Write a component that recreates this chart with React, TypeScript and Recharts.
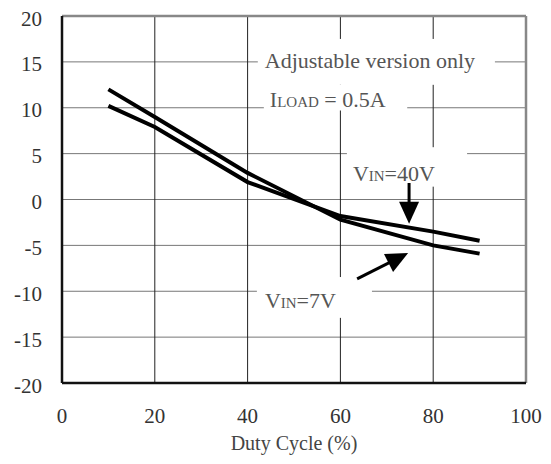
import React from 'react';
import { LineChart, Line, XAxis, YAxis, CartesianGrid, ReferenceArea, ReferenceLine } from 'recharts';

const DUTY = [10, 20, 40, 60, 80, 90];
const VIN_7V = [12.0, 9.0, 2.9, -2.2, -5.0, -5.9];
const VIN_40V = [10.2, 7.9, 1.9, -1.8, -3.5, -4.5];
const X_TICKS = [0, 20, 40, 60, 80, 100];
const Y_TICKS = [-20, -15, -10, -5, 0, 5, 10, 15, 20];

const data = DUTY.map((x, i) => ({ x, v7: VIN_7V[i], v40: VIN_40V[i] }));

const FONT = '"Liberation Serif", "DejaVu Serif", serif';
const TEXT = '#555';

// text boxes that blank out the grid behind them
type Part = [string, number];
const NOTES: { x1: number; x2: number; y1: number; y2: number; dx: number; dy: number; parts: Part[] }[] = [
  { x1: 42.2, x2: 93.3, y1: 12.5, y2: 17.5, dx: 7, dy: 29, parts: [['Adjustable version only', 22]] },
  { x1: 43.5, x2: 74.4, y1: 9.7, y2: 12.5, dx: 6, dy: 22, parts: [['I', 22], ['LOAD', 15], [' = 0.5A', 22]] },
  { x1: 61.4, x2: 87.3, y1: 1.4, y2: 5.7, dx: 6, dy: 34, parts: [['V', 22], ['IN', 15], ['=40V', 22]] },
  { x1: 42.0, x2: 66.8, y1: -12.9, y2: -8.45, dx: 8, dy: 31, parts: [['V', 22], ['IN', 15], ['=7V', 22]] },
];

const ARROWS = [
  [{ x: 74.8, y: 1.8 }, { x: 74.8, y: -2.65 }],
  [{ x: 63.6, y: -8.66 }, { x: 74.6, y: -5.83 }],
];

const NoteBox = (props: any) => {
  const { x, y, width, height, note } = props;
  return (
    <g>
      <rect x={x} y={y} width={width} height={height} fill="#fff" />
      <text x={x + note.dx} y={y + note.dy} fill={TEXT} fontFamily={FONT}>
        {note.parts.map((p: Part, i: number) => (
          <tspan key={i} fontSize={p[1]}>{p[0]}</tspan>
        ))}
      </text>
    </g>
  );
};

const Arrow = (props: any) => {
  const { x1, y1, x2, y2 } = props;
  const dx = x2 - x1;
  const dy = y2 - y1;
  const len = Math.hypot(dx, dy);
  const ux = dx / len;
  const uy = dy / len;
  const hl = 22;
  const hw = 10;
  const bx = x2 - ux * hl;
  const by = y2 - uy * hl;
  const pts = `${x2},${y2} ${bx - uy * hw},${by + ux * hw} ${bx + uy * hw},${by - ux * hw}`;
  return (
    <g>
      <line x1={x1} y1={y1} x2={bx + ux * 2} y2={by + uy * 2} stroke="#000" strokeWidth={3} />
      <polygon points={pts} fill="#000" />
    </g>
  );
};

const YTick = (p: any) => (
  <text x={p.x - 20} y={p.y + 9.5} textAnchor="end" fontSize={21} fontFamily={FONT} fill="#333">
    {p.payload.value}
  </text>
);

const XTick = (p: any) => (
  <text x={p.x} y={p.y + 40} textAnchor="middle" fontSize={21} fontFamily={FONT} fill="#333">
    {p.payload.value}
  </text>
);

export default function App() {
  return (
    <div style={{ position: 'absolute', left: 0, top: 0, background: '#fff' }}>
      <LineChart width={551} height={464} data={data} margin={{ top: 16, right: 25, left: 0, bottom: 6 }}>
        <CartesianGrid vertical={false} stroke="#777" strokeWidth={1} />
        <CartesianGrid horizontal={false} stroke="#222" strokeWidth={1} />
        <XAxis
          dataKey="x"
          type="number"
          domain={[0, 100]}
          ticks={X_TICKS}
          height={75}
          tickSize={0}
          tickMargin={0}
          tickLine={false}
          axisLine={{ stroke: '#111', strokeWidth: 2.5 }}
          tick={<XTick />}
          label={{ value: 'Duty Cycle (%)', position: 'insideBottom', offset: 8, fontSize: 20, fontFamily: FONT, fill: '#444' }}
        />
        <YAxis
          type="number"
          domain={[-20, 20]}
          ticks={Y_TICKS}
          width={62}
          tickSize={0}
          tickMargin={0}
          tickLine={false}
          axisLine={{ stroke: '#111', strokeWidth: 2.5 }}
          tick={<YTick />}
        />
        <ReferenceLine y={20} stroke="#888" strokeWidth={2.5} />
        <ReferenceLine x={100} stroke="#888" strokeWidth={2.5} />
        {NOTES.map((n, i) => (
          <ReferenceArea
            key={i}
            x1={n.x1}
            x2={n.x2}
            y1={n.y1}
            y2={n.y2}
            fill="#fff"
            fillOpacity={1}
            stroke="none"
            shape={(p: any) => <NoteBox {...p} note={n} />}
          />
        ))}
        <Line dataKey="v7" type="linear" stroke="#000" strokeWidth={4} dot={false} isAnimationActive={false} />
        <Line dataKey="v40" type="linear" stroke="#000" strokeWidth={4} dot={false} isAnimationActive={false} />
        {ARROWS.map((seg, i) => (
          <ReferenceLine key={`a${i}`} segment={seg} stroke="#000" shape={(p: any) => <Arrow {...p} />} />
        ))}
      </LineChart>
    </div>
  );
}
